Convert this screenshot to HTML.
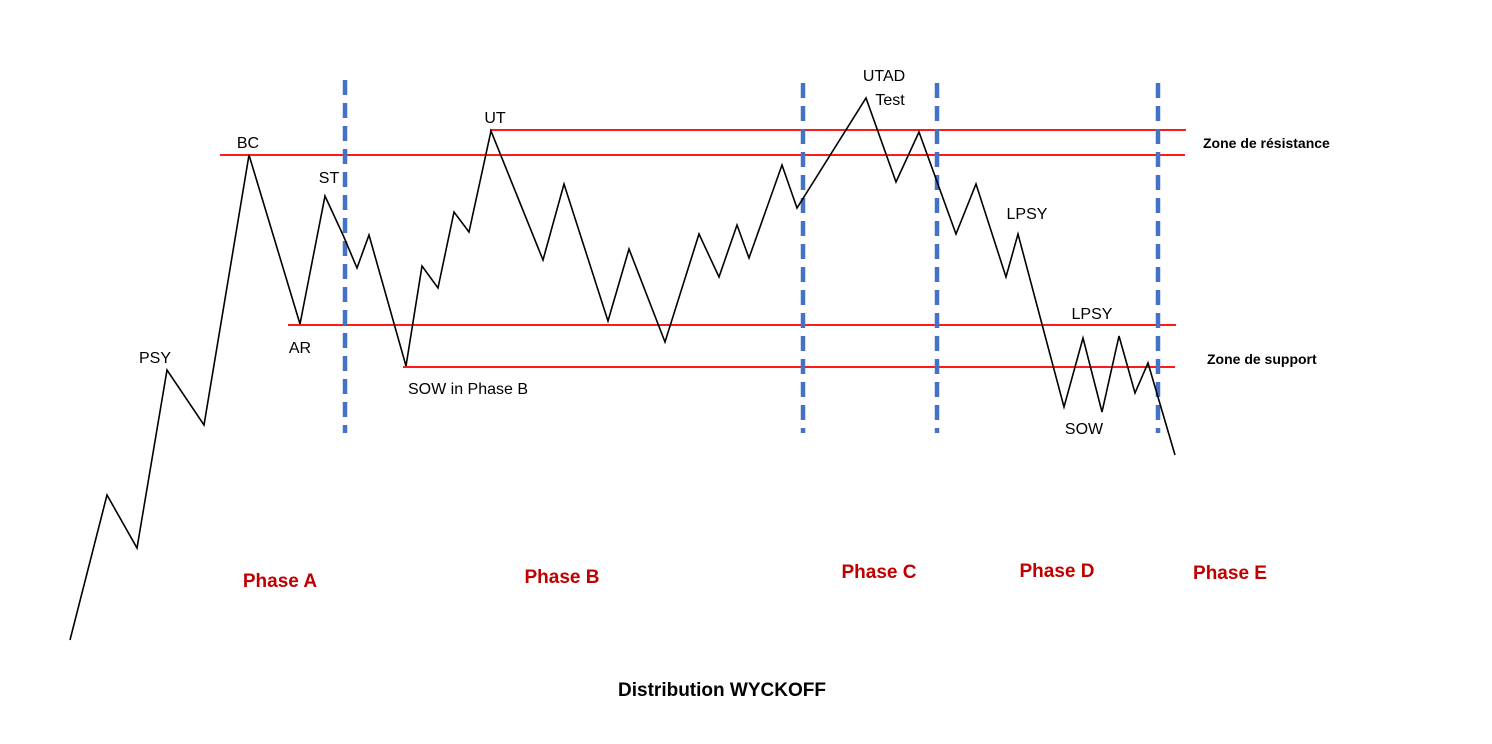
<!DOCTYPE html>
<html><head><meta charset="utf-8"><style>
html,body{margin:0;padding:0;background:#fff}
svg{display:block}
</style></head><body>
<svg width="1492" height="744" viewBox="0 0 1492 744" xmlns="http://www.w3.org/2000/svg" font-family="Liberation Sans, sans-serif">
<g stroke="#ff1a1a" stroke-width="2">
<line x1="490" y1="130" x2="1186" y2="130"/>
<line x1="220" y1="155" x2="1185" y2="155"/>
<line x1="288" y1="325" x2="1176" y2="325"/>
<line x1="403" y1="367" x2="1175" y2="367"/>
</g>
<g stroke="#4472c4" stroke-width="4.5" stroke-dasharray="15 8">
<line x1="345" y1="80" x2="345" y2="433"/>
<line x1="803" y1="83" x2="803" y2="433"/>
<line x1="937" y1="83" x2="937" y2="433"/>
<line x1="1158" y1="83" x2="1158" y2="433"/>
</g>
<polyline fill="none" stroke="#000" stroke-width="1.6" stroke-linejoin="miter" points="70,640 107,495 137,548 167,370 204,425 249,155 300,324 325,196 343,235 357,268 369,235 406,366 422,266 438,288 454,212 469,232 491,131 543,260 564,184 608,321 629,249 665,342 699,234 719,277 737,225 749,258 782,165 797,208 866,98 896,182 919,132 956,234 976,184 1006,277 1018,234 1064,407 1083,338 1102,412 1119,336 1135,393 1148,363 1175,455"/>
<g font-size="16" fill="#000" text-anchor="middle">
<text x="248" y="148">BC</text>
<text x="329" y="183">ST</text>
<text x="155" y="363">PSY</text>
<text x="300" y="353">AR</text>
<text x="495" y="123">UT</text>
<text x="468" y="394">SOW in  Phase B</text>
<text x="884" y="81">UTAD</text>
<text x="890" y="105">Test</text>
<text x="1027" y="219">LPSY</text>
<text x="1092" y="319">LPSY</text>
<text x="1084" y="434">SOW</text>
</g>
<g font-size="14" font-weight="bold" fill="#000">
<text x="1203" y="148">Zone de résistance</text>
<text x="1207" y="364">Zone de support</text>
</g>
<g font-size="19" font-weight="bold" fill="#c00000" text-anchor="middle">
<text x="280" y="587">Phase A</text>
<text x="562" y="583">Phase B</text>
<text x="879" y="578">Phase C</text>
<text x="1057" y="577">Phase D</text>
<text x="1230" y="579">Phase E</text>
</g>
<text x="722" y="696" font-size="19" font-weight="bold" text-anchor="middle" fill="#000">Distribution WYCKOFF</text>
</svg>
</body></html>
